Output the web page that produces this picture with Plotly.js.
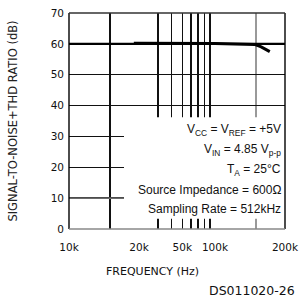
<!DOCTYPE html>
<html>
<head>
<meta charset="utf-8">
<script src="https://cdn.plot.ly/plotly-3.0.1.min.js"></script>
<style>html,body{margin:0;padding:0;background:#fff}#chart{width:299px;height:297px}</style>
</head>
<body>
<div id="chart"></div>
<script>
// Measured curve: SNR+THD (dB) vs input frequency (Hz)
const freq = [19000, 20000, 30000, 40000, 50000, 70000, 100000, 120000, 135000, 148000, 158000, 165000, 172000];
const snr  = [60.2, 60.2, 60.2, 60.2, 60.1, 60.1, 60.1, 60.0, 60.0, 59.8, 59.0, 58.3, 57.5];

// The datasheet axis is split into three log segments
const seg1Ticks = [10000, 15000];
const seg1Text  = ['10k', ''];
const seg2Ticks = [20000, 30000, 40000, 50000, 60000, 70000, 80000, 90000, 100000];
const seg2Text  = ['20k', '', '', '50k', '', '', '', '', '100k'];
const seg3Ticks = [150000, 200000];
const seg3Text  = ['', '200k'];
const yTicks = [0, 10, 20, 30, 40, 50, 60, 70];

const xTitle = 'FREQUENCY (Hz)';
const yTitle = 'SIGNAL-TO-NOISE+THD RATIO (dB)';
const notes = [
  'V<sub>CC</sub> = V<sub>REF</sub> = +5V',
  'V<sub>IN</sub> = 4.85 V<sub>p-p</sub>',
  'T<sub>A</sub> = 25°C',
  'Source Impedance = 600Ω',
  'Sampling Rate = 512kHz'
];
const figId = 'DS011020-26';

function segment(lo, hi) {
  const xs = [], ys = [];
  freq.forEach((f, i) => { if (f >= lo && f <= hi) { xs.push(f); ys.push(snr[i]); } });
  return {xs, ys};
}
const s1 = segment(10000, 20000), s2 = segment(20000, 100000), s3 = segment(100000, 200000);
const lineStyle = {color: '#000', width: 3};
const traces = [
  {x: s1.xs, y: s1.ys, xaxis: 'x', yaxis: 'y', mode: 'lines', line: lineStyle, hoverinfo: 'skip'},
  {x: s2.xs, y: s2.ys, xaxis: 'x2', yaxis: 'y', mode: 'lines', line: lineStyle, hoverinfo: 'skip'},
  {x: s3.xs, y: s3.ys, xaxis: 'x3', yaxis: 'y', mode: 'lines', line: lineStyle, hoverinfo: 'skip'}
];

const tickFont = {family: 'DejaVu Sans, sans-serif', size: 10.5, color: '#111'};
const d1 = 70/216, d2 = 146/216;
function xax(dom, lo, hi, tv, tt, gc) {
  return {
    type: 'log', domain: dom, range: [Math.log10(lo), Math.log10(hi)], anchor: 'y',
    tickmode: 'array', tickvals: tv, ticktext: tt,
    showgrid: true, gridcolor: gc, gridwidth: 1.4,
    ticks: 'inside', ticklen: 9, tickwidth: 1.3, tickcolor: gc,
    showline: false, zeroline: false, tickfont: tickFont, ticklabelstandoff: 10
  };
}

const annotations = [];
const noteY = [130, 150, 170, 190, 209];
notes.forEach((t, i) => annotations.push({
  text: t, xref: 'paper', yref: 'paper', x: (283-69)/216, y: (229 - noteY[i]) / 216,
  xanchor: 'right', yanchor: 'middle', showarrow: false,
  font: {family: 'Liberation Sans, Arial, sans-serif', size: 12, color: '#111'}
}));
annotations.push({
  text: xTitle, xref: 'paper', yref: 'paper', x: (152-69)/216, y: (229-271)/216,
  xanchor: 'center', yanchor: 'middle', showarrow: false,
  font: {family: 'DejaVu Sans, sans-serif', size: 11, color: '#111'}
});
annotations.push({
  text: figId, xref: 'paper', yref: 'paper', x: (297-69)/216, y: (229-290)/216,
  xanchor: 'right', yanchor: 'middle', showarrow: false,
  font: {family: 'DejaVu Sans, sans-serif', size: 12.5, color: '#111'}
});

const layout = {
  width: 299, height: 297,
  margin: {l: 69, r: 14, t: 13, b: 68},
  paper_bgcolor: '#fff', plot_bgcolor: '#fff', showlegend: false,
  xaxis: xax([0, d1], 10000, 20000, seg1Ticks, seg1Text, '#111'),
  xaxis2: xax([d1, d2], 20000, 100000, seg2Ticks, seg2Text, '#111'),
  xaxis3: xax([d2, 1], 100000, 200000, seg3Ticks, seg3Text, '#999'),
  yaxis: {
    range: [0, 70], tickmode: 'array', tickvals: yTicks, anchor: 'x',
    showgrid: true, gridcolor: '#111', gridwidth: 1.4, zeroline: false,
    ticks: '', showline: false, tickfont: tickFont, ticklabelstandoff: 4,
    title: {text: yTitle, font: {family: 'DejaVu Sans, sans-serif', size: 11.5, color: '#222'}, standoff: 30}
  },
  shapes: [
    // blank area behind the condition notes
    {type: 'rect', xref: 'paper', yref: 'y', x0: (124-69)/216, x1: 1, y0: 3.3, y1: 36.2,
     fillcolor: '#fff', line: {width: 0}, layer: 'above'},
    // lighter 10 dB gridline
    {type: 'line', xref: 'paper', yref: 'y', x0: 0, x1: (124-69)/216, y0: 10, y1: 10, line: {color: '#888', width: 1.4}, layer: 'above'},
    // heavy 60 dB reference line
    {type: 'line', xref: 'paper', yref: 'y', x0: 0, x1: 1, y0: 60, y1: 60, line: {color: '#000', width: 2.2}, layer: 'above'},
    // frame
    {type: 'line', xref: 'paper', yref: 'paper', x0: 0, x1: 0, y0: 0, y1: 1, line: {color: '#000', width: 1.4}, layer: 'above'},
    {type: 'line', xref: 'paper', yref: 'paper', x0: 1, x1: 1, y0: 0, y1: 1, line: {color: '#000', width: 1.4}, layer: 'above'},
    {type: 'line', xref: 'paper', yref: 'paper', x0: 0, x1: 1, y0: 1, y1: 1, line: {color: '#333', width: 1.4}, layer: 'above'},
    {type: 'line', xref: 'paper', yref: 'paper', x0: 0, x1: 1, y0: 0, y1: 0, line: {color: '#888', width: 1.6}, layer: 'above'}
  ],
  annotations: annotations
};

Plotly.newPlot('chart', traces, layout, {staticPlot: true, displayModeBar: false});
</script>
</body>
</html>
